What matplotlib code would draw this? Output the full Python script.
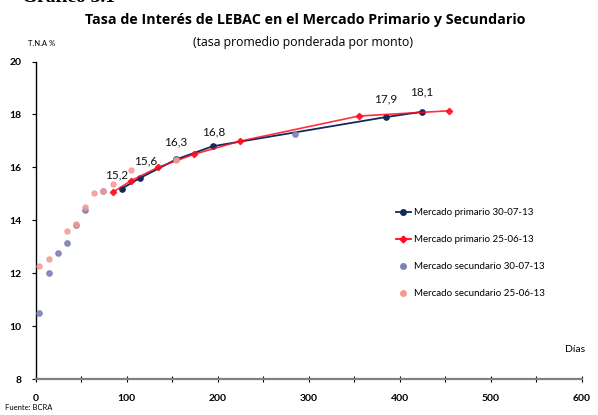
import matplotlib
matplotlib.use("Agg")
import matplotlib.pyplot as plt
from matplotlib.lines import Line2D

plt.rcParams['font.family'] = ['Lato', 'DejaVu Sans']

# ---- data ----
prim_jul_x = [94.5, 114.6, 154.2, 194.5, 384.6, 424.5]
prim_jul_y = [15.2, 15.6, 16.3, 16.8, 17.9, 18.1]

prim_jun_x = [84.6, 104.3, 134.1, 174.3, 224.2, 354.9, 454.5]
prim_jun_y = [15.06, 15.49, 16.0, 16.5, 16.99, 17.94, 18.14]

sec_jul_x = [4.0, 14.3, 24.5, 34.4, 44.3, 54.2, 74.3, 154.2, 285.0]
sec_jul_y = [10.49, 12.0, 12.77, 13.14, 13.82, 14.4, 15.1, 16.3, 17.28]

sec_jun_x = [4.0, 14.3, 34.4, 44.3, 54.2, 64.4, 74.3, 84.6, 104.3, 154.2]
sec_jun_y = [12.28, 12.55, 13.6, 13.85, 14.49, 15.02, 15.12, 15.36, 15.9, 16.28]

label_text = ["15,2", "15,6", "16,3", "16,8", "17,9", "18,1"]
label_off = [(-4, 6), (4, 8), (0, 8.5), (1, 6.5), (0, 9.5), (0, 10.5)]

legend_labels = ["Mercado primario 30-07-13", "Mercado primario 25-06-13",
                 "Mercado secundario 30-07-13", "Mercado secundario 25-06-13"]

c_navy = "#102a5e"
c_red = "#ff0a1e"
c_sec_jul = "#7d82b4"
c_sec_jun = "#f59a92"

fig = plt.figure(figsize=(5.98, 4.15), dpi=100)
ax = fig.add_axes([0.0597, 0.086, 0.913, 0.7658])

ax.plot(prim_jul_x, prim_jul_y, color=c_navy, lw=1.3, marker='o', ms=3.8,
        zorder=3)
ax.plot(prim_jun_x, prim_jun_y, color=c_red, lw=1.2, marker='D', ms=3.2,
        zorder=4, alpha=0.85, markerfacecolor=c_red, markeredgecolor=c_red)
ax.plot(sec_jul_x, sec_jul_y, ls='none', marker='o', ms=3.8, color=c_sec_jul,
        alpha=0.9, zorder=5)
ax.plot(sec_jun_x, sec_jun_y, ls='none', marker='o', ms=3.6, color=c_sec_jun,
        alpha=0.85, zorder=6)

for x, y, t, off in zip(prim_jul_x, prim_jul_y, label_text, label_off):
    ax.annotate(t, (x, y), xytext=off, textcoords='offset points',
                ha='center', va='bottom', fontsize=8.5, color='#111111')

ax.set_xlim(0, 600)
ax.set_ylim(8, 20)
ax.set_xticks(range(0, 601, 50))
ax.set_xticklabels([str(v) if v % 100 == 0 else "" for v in range(0, 601, 50)])
ax.set_yticks(range(8, 21, 2))

for s in ['top', 'right']:
    ax.spines[s].set_visible(False)
ax.spines['left'].set_color('black')
ax.spines['left'].set_linewidth(1.0)
ax.spines['bottom'].set_color('#808080')
ax.spines['bottom'].set_linewidth(1.6)

ax.tick_params(axis='x', direction='inout', length=5, width=0.8, color='black',
               labelsize=7.5, pad=8)
ax.tick_params(axis='y', direction='out', length=3, width=0.8, color='black',
               labelsize=7.5, pad=7)
for lab in ax.get_xticklabels() + ax.get_yticklabels():
    lab.set_fontweight('bold')

handles = [
    Line2D([], [], color=c_navy, lw=1.3, marker='o', ms=4),
    Line2D([], [], color=c_red, lw=1.3, marker='D', ms=3.4),
    Line2D([], [], ls='none', color=c_sec_jul, marker='o', ms=4),
    Line2D([], [], ls='none', color=c_sec_jun, marker='o', ms=4),
]
ax.legend(handles, legend_labels, loc='upper left',
          bbox_to_anchor=(0.643, 0.565), frameon=False, fontsize=7,
          handlelength=1.6, handletextpad=0.3, labelspacing=1.85)

fig.text(0.511, 0.952, "Tasa de Interés de LEBAC en el Mercado Primario y Secundario",
         ha='center', va='center', fontsize=10.3, fontweight='bold',
         family='Open Sans')
fig.text(0.507, 0.898, "(tasa promedio ponderada por monto)",
         ha='center', va='center', fontsize=8.8, family='Open Sans')
fig.text(0.047, 0.896, "T.N.A %", ha='left', va='center', fontsize=5.5)
fig.text(0.945, 0.158, "Días", ha='left', va='center', fontsize=7.5)
fig.text(0.008, 0.018, "Fuente: BCRA", ha='left', va='center', fontsize=5.5)
fig.text(0.037, 0.985, "Gráfico 3.1", ha='left', va='bottom', fontsize=14,
         fontweight='bold', family='Liberation Serif')

fig.savefig("out.png", dpi=100)
